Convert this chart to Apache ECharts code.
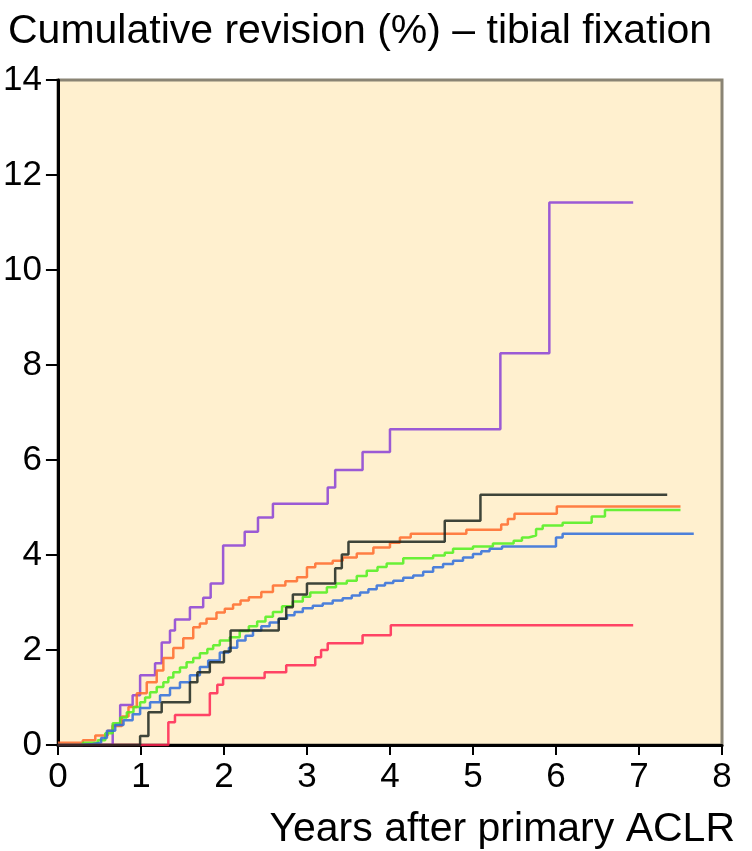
<!DOCTYPE html>
<html>
<head>
<meta charset="utf-8">
<script src="https://cdn.jsdelivr.net/npm/echarts@6/dist/echarts.min.js"></script>
<style>
  html, body { margin: 0; padding: 0; background: #fff; }
  #chart { width: 752px; height: 851px; }
</style>
</head>
<body>
<div id="chart"></div>
<script>
// years after primary ACLR (step positions) and cumulative revision (%)
const purpleX = [0, 0.66, 0.75, 0.90, 0.99, 1.17, 1.25, 1.35, 1.41, 1.59, 1.75, 1.84, 1.99, 2.25, 2.41, 2.59, 3.25, 3.34, 3.67, 4.00, 5.33, 5.92, 6.93];
const purpleY = [0, 0.42, 0.84, 1.05, 1.47, 1.72, 2.16, 2.41, 2.64, 2.90, 3.10, 3.40, 4.20, 4.49, 4.79, 5.08, 5.42, 5.79, 6.17, 6.65, 8.25, 11.42, 11.42];

const orangeX = [0, 0.30, 0.45, 0.60, 0.66, 0.77, 0.85, 0.95, 1.07, 1.19, 1.27, 1.39, 1.51, 1.63, 1.71, 1.79, 1.91, 2.01, 2.11, 2.20, 2.30, 2.45, 2.59, 2.74, 2.88, 3.00, 3.10, 3.31, 3.43, 3.60, 3.80, 4.00, 4.12, 4.25, 4.92, 5.34, 5.42, 5.50, 6.01, 7.50];
const orangeY = [0.05, 0.10, 0.20, 0.30, 0.40, 0.60, 0.80, 1.09, 1.32, 1.57, 1.83, 2.04, 2.25, 2.48, 2.56, 2.66, 2.79, 2.87, 2.96, 3.04, 3.11, 3.22, 3.36, 3.45, 3.53, 3.74, 3.82, 3.88, 3.95, 4.03, 4.16, 4.26, 4.37, 4.45, 4.53, 4.64, 4.76, 4.87, 5.02, 5.02];

const greenX = [0, 0.30, 0.48, 0.57, 0.66, 0.75, 0.83, 0.91, 0.99, 1.05, 1.11, 1.19, 1.27, 1.33, 1.39, 1.47, 1.55, 1.63, 1.71, 1.80, 1.87, 1.95, 2.07, 2.19, 2.30, 2.40, 2.50, 2.59, 2.70, 2.83, 2.95, 3.04, 3.24, 3.35, 3.48, 3.60, 3.72, 3.85, 3.96, 4.16, 4.52, 4.66, 4.76, 5.00, 5.24, 5.49, 5.59, 5.67, 5.76, 5.84, 6.08, 6.43, 6.59, 7.50];
const greenY = [0, 0.05, 0.10, 0.25, 0.46, 0.58, 0.69, 0.80, 0.90, 1.00, 1.11, 1.22, 1.32, 1.42, 1.53, 1.63, 1.74, 1.83, 1.93, 2.02, 2.10, 2.20, 2.27, 2.40, 2.50, 2.60, 2.70, 2.80, 2.92, 3.02, 3.12, 3.21, 3.32, 3.40, 3.46, 3.56, 3.67, 3.75, 3.82, 3.93, 3.99, 4.05, 4.13, 4.18, 4.24, 4.30, 4.37, 4.41, 4.55, 4.62, 4.68, 4.81, 4.95, 4.95];

const blueX = [0, 0.25, 0.42, 0.52, 0.59, 0.69, 0.79, 0.90, 0.99, 1.11, 1.23, 1.35, 1.47, 1.59, 1.71, 1.81, 1.95, 2.06, 2.16, 2.26, 2.35, 2.45, 2.55, 2.66, 2.76, 2.85, 2.95, 3.07, 3.19, 3.31, 3.43, 3.54, 3.64, 3.74, 3.84, 3.94, 4.04, 4.16, 4.28, 4.40, 4.52, 4.64, 4.76, 4.88, 5.00, 5.10, 5.20, 5.35, 6.00, 6.08, 7.66];
const blueY = [0, 0.02, 0.05, 0.15, 0.30, 0.42, 0.52, 0.65, 0.78, 0.90, 1.05, 1.20, 1.32, 1.47, 1.64, 1.78, 1.95, 2.05, 2.20, 2.30, 2.41, 2.50, 2.58, 2.66, 2.73, 2.80, 2.88, 2.93, 2.98, 3.04, 3.09, 3.15, 3.21, 3.28, 3.36, 3.41, 3.46, 3.52, 3.57, 3.65, 3.74, 3.81, 3.88, 3.95, 4.02, 4.08, 4.13, 4.18, 4.37, 4.45, 4.45];

const blackX = [0, 0.99, 1.09, 1.25, 1.59, 1.68, 1.83, 2.00, 2.08, 2.66, 2.75, 2.83, 3.00, 3.34, 3.42, 3.50, 4.66, 5.09, 7.34];
const blackY = [0, 0.19, 0.69, 0.90, 1.32, 1.53, 1.74, 1.97, 2.41, 2.66, 2.90, 3.17, 3.40, 3.72, 4.01, 4.28, 4.72, 5.27, 5.27];

const redX = [0, 1.33, 1.41, 1.83, 1.92, 1.99, 2.49, 2.75, 3.10, 3.17, 3.25, 3.67, 4.01, 6.93];
const redY = [0, 0.48, 0.63, 1.09, 1.27, 1.41, 1.53, 1.68, 1.85, 2.00, 2.14, 2.31, 2.52, 2.52];

const xTicks = [0, 8, 1];
const yTicks = [0, 14, 2];

const pairs = (xs, ys) => xs.map((x, i) => [x, ys[i]]);

const stepSeries = (name, xs, ys, color) => ({
  name: name,
  type: "line",
  step: "end",
  showSymbol: false,
  lineStyle: { color: color, width: 2.5, opacity: 0.85 },
  data: pairs(xs, ys)
});

const chart = echarts.init(document.getElementById("chart"));
chart.setOption({
  animation: false,
  textStyle: { fontFamily: "Liberation Sans, Arial, sans-serif" },
  title: {
    text: "Cumulative revision (%) – tibial fixation",
    left: 3,
    top: 6,
    textStyle: { fontSize: 41, fontWeight: "normal", color: "#000" }
  },
  grid: {
    left: 57,
    right: 30,
    top: 80,
    bottom: 106,
    show: true,
    backgroundColor: "#fff0cf",
    borderColor: "#8a8474",
    borderWidth: 3
  },
  xAxis: {
    type: "value",
    min: xTicks[0],
    max: xTicks[1],
    interval: xTicks[2],
    name: "Years after primary ACLR",
    nameLocation: "end",
    nameGap: 13,
    nameTextStyle: { fontSize: 41, color: "#000", align: "right", verticalAlign: "top", padding: [64, 0, 0, 0] },
    axisLine: { lineStyle: { color: "#000", width: 3 } },
    axisTick: { length: 10, lineStyle: { color: "#000", width: 2 } },
    axisLabel: { fontSize: 35, color: "#000", margin: 15 },
    splitLine: { show: false }
  },
  yAxis: {
    type: "value",
    min: yTicks[0],
    max: yTicks[1],
    interval: yTicks[2],
    axisLine: { lineStyle: { color: "#000", width: 3 } },
    axisTick: { length: 12, lineStyle: { color: "#000", width: 2 } },
    axisLabel: { fontSize: 35, color: "#000", margin: 16 },
    splitLine: { show: false }
  },
  series: [
    stepSeries("purple", purpleX, purpleY, "#8a3fd6"),
    stepSeries("orange", orangeX, orangeY, "#ff6a2a"),
    stepSeries("green", greenX, greenY, "#4ff01c"),
    stepSeries("blue", blueX, blueY, "#2e6cdc"),
    stepSeries("red", redX, redY, "#ff2452"),
    stepSeries("black", blackX, blackY, "#1c261e")
  ]
});
</script>
</body>
</html>
